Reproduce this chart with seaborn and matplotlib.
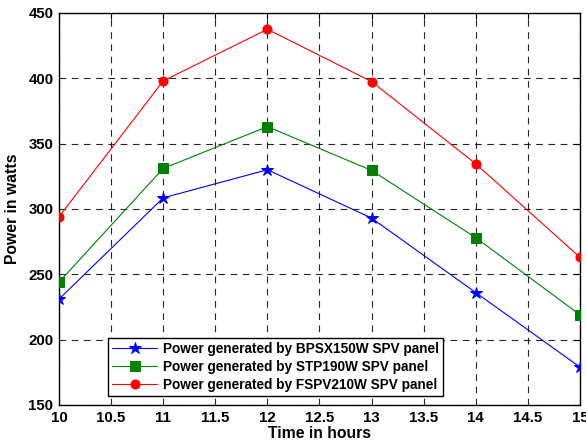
import matplotlib
matplotlib.use("Agg")
import matplotlib.pyplot as plt
import seaborn as sns
import pandas as pd

hours = [10, 11, 12, 13, 14, 15]
bpsx150 = [231, 308.5, 330, 293, 236, 179]
stp190 = [244, 331, 363, 329.5, 278, 219]
fspv210 = [294, 398, 437.5, 397.5, 334.5, 263]
labels = ["Power generated by BPSX150W SPV panel",
          "Power generated by STP190W SPV panel",
          "Power generated by FSPV210W SPV panel"]
xticks = [10, 10.5, 11, 11.5, 12, 12.5, 13, 13.5, 14, 14.5, 15]
xticklabels = ["10", "10.5", "11", "11.5", "12", "12.5", "13", "13.5", "14", "14.5", "15"]
yticks = [150, 200, 250, 300, 350, 400, 450]

sns.set_style("white")
plt.rcParams['font.family'] = ['Liberation Sans', 'DejaVu Sans']
plt.rcParams['font.weight'] = 'bold'
plt.rcParams['text.color'] = 'black'
plt.rcParams['axes.labelcolor'] = 'black'

fig = plt.figure(figsize=(5.86, 4.46), dpi=100)
ax = fig.add_axes([0.1007, 0.092, 0.889, 0.879])

series = [bpsx150, stp190, fspv210]
colors = ["#0000ff", "#008000", "#ff0000"]
markers = ["*", "s", "o"]
msizes = [9, 6.5, 6.5]
for vals, lab, c, m, ms in zip(series, labels, colors, markers, msizes):
    df = pd.DataFrame({"hour": hours, "power": vals})
    sns.lineplot(data=df, x="hour", y="power", ax=ax, color=c, marker=m,
                 markersize=ms, markeredgecolor=c, linewidth=0.8, label=lab, zorder=3)

ax.set_xlim(10, 15)
ax.set_ylim(150, 450)
ax.set_xticks(xticks)
ax.set_xticklabels(xticklabels)
ax.set_yticks(yticks)
ax.tick_params(direction="in", top=True, right=True, length=4, width=0.8,
               labelsize=10.8, colors="black", pad=4)
for lbl in ax.get_xticklabels() + ax.get_yticklabels():
    lbl.set_fontweight("bold")
ax.grid(True, color="black", linestyle=(0, (6, 5)), linewidth=0.8, alpha=0.85, zorder=0)
for sp in ax.spines.values():
    sp.set_visible(True)
    sp.set_color("black")
    sp.set_linewidth(1.0)

ax.set_xlabel("Time in hours", fontsize=11.3, fontweight="bold", labelpad=1, color="black")
ax.set_ylabel("Power in watts", fontsize=11.3, fontweight="bold", labelpad=6, color="black")

leg = ax.legend(loc="lower left", bbox_to_anchor=(0.094, 0.023),
                fontsize=9.8, frameon=True, fancybox=False,
                edgecolor="black", framealpha=1, borderpad=0.3, labelspacing=0.3,
                handlelength=3.3, handletextpad=0.45, borderaxespad=0)
leg.get_frame().set_linewidth(1.0)
for t in leg.get_texts():
    t.set_fontweight("bold")
    t.set_color("black")

fig.savefig("out.png", dpi=100)
